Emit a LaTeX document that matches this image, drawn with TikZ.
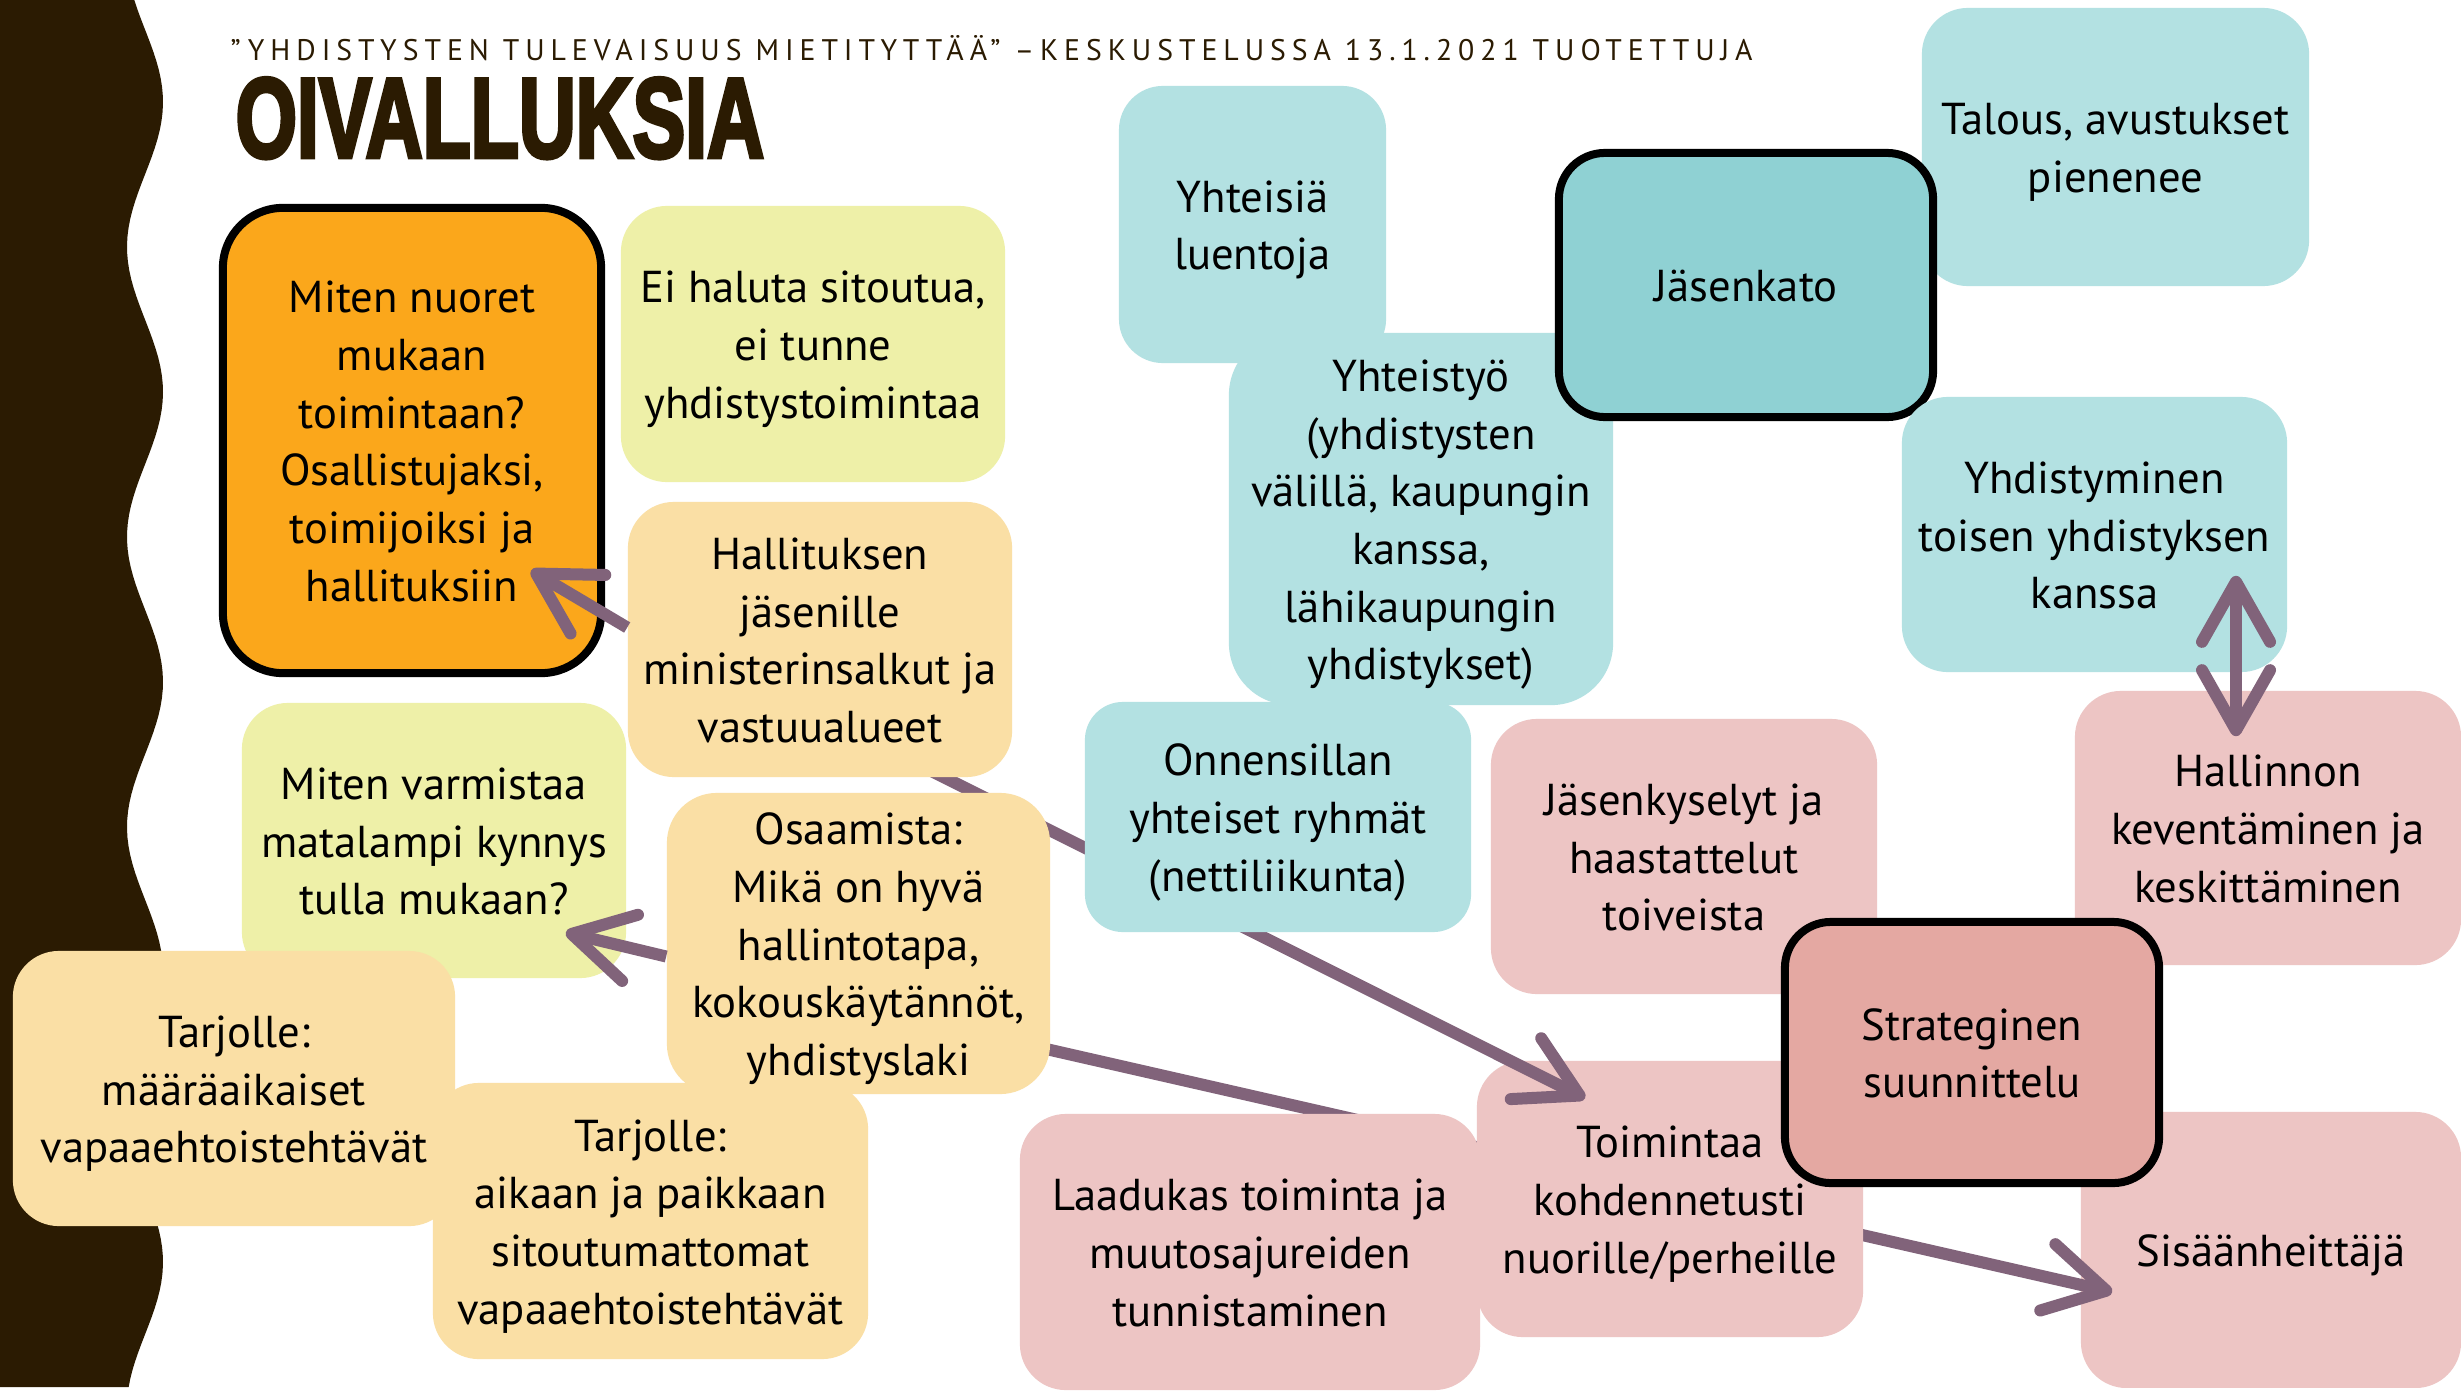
\documentclass[tikz,border=0pt]{standalone}
\usepackage{fontspec}
\setmainfont{PT Sans}
\newfontfamily\titlefont[FakeBold=4]{Liberation Sans}
\newfontfamily\subfont[LetterSpace=20]{PT Sans}
\usetikzlibrary{arrows.meta,calc}
\definecolor{band}{HTML}{2B1B02}
\definecolor{orng}{HTML}{FBA71B}
\definecolor{lime}{HTML}{EEF0A8}
\definecolor{peach}{HTML}{FADFA5}
\definecolor{cyanl}{HTML}{B3E1E2}
\definecolor{cyand}{HTML}{8FD1D3}
\definecolor{pinkl}{HTML}{EDC5C4}
\definecolor{pinkd}{HTML}{E4A8A2}
\definecolor{arrc}{HTML}{81637A}
\newcommand{\mytop}{\rule{0pt}{1.04em}}
\pgfdeclarelayer{lzero}
\pgfdeclarelayer{lone}
\pgfdeclarelayer{ltwo}
\pgfdeclarelayer{lthree}
\pgfdeclarelayer{lfive}
\pgfsetlayers{lzero,lone,ltwo,lthree,main,lfive}
\begin{document}
\begin{tikzpicture}[x=0.01cm,y=-0.01cm,
  bx/.style n args={3}{rectangle, align=center, inner sep=0pt,
     font=\fontsize{12.7pt}{16.4pt}\selectfont, text=black,
     execute at end node={\rule[-0.3em]{0pt}{0pt}},
     minimum width=#1cm, minimum height=#2cm, rounded corners=#3cm},
  thick border/.style={draw=black, line width=0.08cm},
  chev/.tip={Straight Barb[length=0.6cm, width=0.68cm, round]},
  conn/.style={draw=arrc, line width=0.12cm, -chev},
  dconn/.style={draw=arrc, line width=0.12cm, chev-chev}
]
\begin{pgfonlayer}{lzero}
\useasboundingbox (0,0) rectangle (2461,1387);
\clip (0,0) rectangle (2461,1387);
\fill[white] (0,0) rectangle (2461,1387);
% left wavy band
\fill[band] (0,0) -- plot[domain=0:1387,samples=160,variable=\t] ({145+18*cos((\t-102)*1.24138)},\t) -- (0,1387) -- cycle;
% titles
\node[anchor=base west, inner sep=0pt, text=band] (sub) at (230,60)
  {\resizebox{15.21cm}{!}{\subfont\fontsize{7.7pt}{9pt}\selectfont ”YHDISTYSTEN TULEVAISUUS MIETITYTTÄÄ” –KESKUSTELUSSA 13.1.2021 TUOTETTUJA}};
\node[anchor=south west, inner sep=0pt, text=band] (tit) at (235,159)
  {\resizebox{5.28cm}{0.79cm}{\titlefont\bfseries OIVALLUKSIA}};
% left group
\node[bx={3.78}{4.65}{0.6}, fill=orng, thick border] (nuo) at (412,440.5)
  {\mytop Miten nuoret\\mukaan\\toimintaan?\\Osallistujaksi,\\toimijoiksi ja\\hallituksiin};
\node[bx={3.84}{2.76}{0.46}, fill=lime] (eih) at (813,344)
  {\mytop Ei haluta sitoutua,\\ei tunne\\yhdistystoimintaa};
\node[bx={3.84}{2.75}{0.46}, fill=lime] (mvk) at (434,840.5)
  {\mytop Miten varmistaa\\matalampi kynnys\\tulla mukaan?};
\node[bx={4.42}{2.75}{0.46}, fill=peach] (ta1) at (234,1088.5)
  {\mytop Tarjolle:\\määräaikaiset\\vapaaehtoistehtävät};
\node[bx={4.35}{2.76}{0.46}, fill=peach] (ta2) at (650.5,1221)
  {\mytop Tarjolle:\\aikaan ja paikkaan\\sitoutumattomat\\vapaaehtoistehtävät};
\node[bx={3.80}{2.76}{0.46}, fill=pinkl] (sis) at (2271,1250) {\mytop Sisäänheittäjä};
\node[bx={3.86}{2.74}{0.46}, fill=pinkl] (hak) at (2268,828)
  {\mytop Hallinnon\\keventäminen ja\\keskittäminen};
\end{pgfonlayer}
\begin{pgfonlayer}{ltwo}
\node[bx={4.60}{2.76}{0.46}, fill=pinkl] (laa) at (1250,1252)
  {\mytop Laadukas toiminta ja\\muutosajureiden\\tunnistaminen};
\node[bx={3.86}{2.76}{0.46}, fill=pinkl] (toi) at (1670,1199)
  {\mytop Toimintaa\\kohdennetusti\\nuorille/perheille};
\end{pgfonlayer}
% main layer boxes
\node[bx={3.84}{2.75}{0.46}, fill=peach] (hal) at (820,639.5)
  {\mytop Hallituksen\\jäsenille\\ministerinsalkut ja\\vastuualueet};
\node[bx={3.83}{3.01}{0.5}, fill=peach] (osa) at (858.5,943.5)
  {\mytop Osaamista:\\Mikä on hyvä\\hallintotapa,\\kokouskäytännöt,\\yhdistyslaki};
\node[bx={3.86}{2.30}{0.38}, fill=cyanl] (onn) at (1278,817)
  {\mytop Onnensillan\\yhteiset ryhmät\\(nettiliikunta)};
\node[bx={2.67}{2.77}{0.44}, fill=cyanl] (lue) at (1252.5,224.5)
  {\mytop Yhteisiä\\luentoja};
\node[bx={3.84}{3.72}{0.62}, fill=cyanl] (yht) at (1421,519)
  {\mytop Yhteistyö\\(yhdistysten\\välillä, kaupungin\\kanssa,\\lähikaupungin\\yhdistykset)};
\node[bx={3.87}{2.78}{0.46}, fill=cyanl] (tal) at (2115.5,147)
  {\mytop Talous, avustukset\\pienenee};
\node[bx={3.74}{2.64}{0.46}, fill=cyand, thick border] (jka) at (1746,285)
  {\mytop Jäsenkato};
\node[bx={3.85}{2.75}{0.46}, fill=cyanl] (ydm) at (2094.5,534.5)
  {\mytop Yhdistyminen\\toisen yhdistyksen\\kanssa};
\node[bx={3.86}{2.75}{0.46}, fill=pinkl] (jky) at (1684,856.5)
  {\mytop Jäsenkyselyt ja\\haastattelut\\toiveista};
\node[bx={3.74}{2.61}{0.46}, fill=pinkd, thick border] (str) at (1972,1052.5)
  {\mytop Strateginen\\suunnittelu};
% connectors
\begin{pgfonlayer}{lone}
\draw[conn] ($(osa.east)+(-20,102)$) -- ($(sis.west)+(32,42)$);
\end{pgfonlayer}
\begin{pgfonlayer}{lthree}
\draw[conn] ($(hal.south)+(105,-10)$) -- ($(toi.north)+(-85,38)$);
\end{pgfonlayer}
\begin{pgfonlayer}{lfive}
\draw[conn] ($(hal.west)+(0,-12)$) -- ($(nuo.east)+(-74,130)$);
\draw[conn] ($(osa.west)+(0,13)$) -- ($(mvk.east)+(-61,92)$);
\draw[dconn] ($(hak.north)+(-32,46)$) -- ($(ydm.south)+(141.5,-97)$);
\end{pgfonlayer}
\end{tikzpicture}
\end{document}
